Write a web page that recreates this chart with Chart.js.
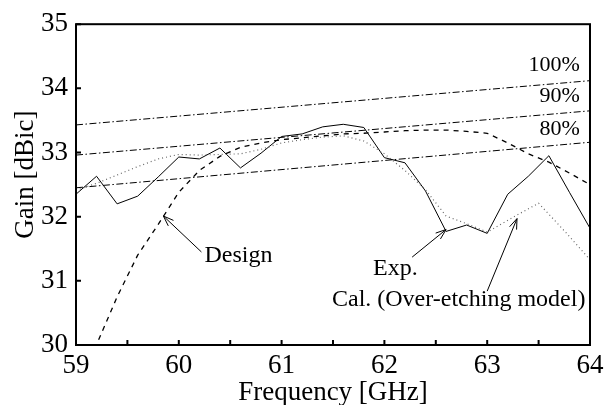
<!DOCTYPE html>
<html>
<head>
<meta charset="utf-8">
<script src="https://cdn.jsdelivr.net/npm/chart.js@4.4.1/dist/chart.umd.min.js"></script>
<style>
html,body{margin:0;padding:0;background:#fff;}
#wrap{width:613px;height:405px;position:relative;}
</style>
</head>
<body>
<div id="wrap"><canvas id="c" width="613" height="405"></canvas></div>
<script>
// ---- data ----
const freqExp = [59.0,59.2,59.4,59.6,59.8,60.0,60.2,60.4,60.6,60.8,61.0,61.2,61.4,61.6,61.8,62.0,62.2,62.4,62.6,62.8,63.0,63.2,63.4,63.6,63.8,64.0];
const gainExp = [32.35,32.63,32.20,32.32,32.62,32.93,32.90,33.07,32.76,32.99,33.25,33.29,33.40,33.44,33.39,32.92,32.84,32.40,31.77,31.87,31.74,32.35,32.63,32.95,32.38,31.82];

const freqCal = [59.0,59.2,59.4,59.6,59.8,60.0,60.2,60.4,60.6,60.8,61.0,61.2,61.4,61.6,61.8,62.0,62.2,62.4,62.6,62.8,63.0,63.25,63.5,63.75,64.0];
const gainCal = [32.41,32.52,32.65,32.78,32.90,32.97,32.96,32.97,32.98,33.05,33.15,33.20,33.24,33.26,33.18,32.98,32.72,32.42,32.01,31.89,31.76,31.99,32.21,31.78,31.33];

const freqDesign = [59.22,59.4,59.6,59.8,60.0,60.2,60.4,60.6,60.8,61.0,61.2,61.4,61.6,61.8,62.0,62.2,62.4,62.6,62.8,63.0,63.2,63.4,63.6,63.8,64.0];
const gainDesign = [30.08,30.75,31.40,31.88,32.38,32.72,32.94,33.08,33.15,33.20,33.23,33.26,33.29,33.30,33.32,33.34,33.35,33.35,33.33,33.30,33.15,32.98,32.85,32.68,32.50];

const freqRef = [59, 64];
const gain100 = [33.43, 34.12];
const gain90  = [32.96, 33.65];
const gain80  = [32.45, 33.16];

const xTicks = [59,60,61,62,63,64];
const yTicks = [30,31,32,33,34,35];

const xTitle = 'Frequency [GHz]';
const yTitle = 'Gain [dBic]';

function pts(xs, ys){ return xs.map((x,i)=>({x:x,y:ys[i]})); }

// text labels (data coordinates)
const labels = [
  {text:'100%', x:63.9, y:34.36, align:'right', size:22},
  {text:'90%',  x:63.9, y:33.87, align:'right', size:22},
  {text:'80%',  x:63.9, y:33.36, align:'right', size:22},
  {text:'Design', x:60.25, y:31.39, align:'left', size:24},
  {text:'Exp.', x:61.89, y:31.19, align:'left', size:24},
  {text:'Cal. (Over-etching model)', x:61.49, y:30.70, align:'left', size:24}
];
// arrows: tail -> tip (data coordinates)
const arrows = [
  {x0:60.22, y0:31.45, x1:59.85, y1:32.01},
  {x0:62.27, y0:31.37, x1:62.60, y1:31.80},
  {x0:63.00, y0:30.84, x1:63.29, y1:31.97}
];

const FONT = '"Liberation Serif","Times New Roman",serif';

const decor = {
  id:'decor',
  afterDatasetsDraw(chart){
    const {ctx, chartArea:a, scales:{x,y}} = chart;
    ctx.save();
    // inward ticks
    ctx.strokeStyle='#000'; ctx.lineWidth=2;
    ctx.beginPath();
    for(let v=59; v<=64.001; v+=0.5){
      const px = x.getPixelForValue(v);
      ctx.moveTo(px, a.bottom); ctx.lineTo(px, a.bottom-5);
    }
    yTicks.forEach(v=>{
      const py = y.getPixelForValue(v);
      ctx.moveTo(a.left, py); ctx.lineTo(a.left+5, py);
    });
    ctx.stroke();
    // frame
    ctx.lineWidth=2;
    ctx.strokeRect(a.left, a.top, a.right-a.left, a.bottom-a.top);
    // labels
    ctx.fillStyle='#000';
    ctx.textBaseline='middle';
    labels.forEach(l=>{
      ctx.font = l.size+'px '+FONT;
      ctx.textAlign=l.align;
      ctx.fillText(l.text, x.getPixelForValue(l.x), y.getPixelForValue(l.y));
    });
    // arrows
    ctx.lineWidth=1;
    arrows.forEach(ar=>{
      const x0=x.getPixelForValue(ar.x0), y0=y.getPixelForValue(ar.y0);
      const x1=x.getPixelForValue(ar.x1), y1=y.getPixelForValue(ar.y1);
      ctx.beginPath(); ctx.moveTo(x0,y0); ctx.lineTo(x1,y1); ctx.stroke();
      const ang=Math.atan2(y1-y0,x1-x0), L=11, h=0.35;
      ctx.beginPath();
      ctx.moveTo(x1-L*Math.cos(ang-h), y1-L*Math.sin(ang-h));
      ctx.lineTo(x1,y1);
      ctx.lineTo(x1-L*Math.cos(ang+h), y1-L*Math.sin(ang+h));
      ctx.stroke();
    });
    // axis titles
    ctx.font = '27px '+FONT;
    ctx.textAlign='center';
    ctx.textBaseline='alphabetic';
    ctx.fillText(xTitle, (a.left+a.right)/2, 400);
    ctx.save();
    ctx.translate(33, (a.top+a.bottom)/2 - 10);
    ctx.rotate(-Math.PI/2);
    ctx.fillText(yTitle, 0, 0);
    ctx.restore();
    ctx.restore();
  }
};

const refStyle = {borderColor:'#000', borderWidth:1, borderDash:[7,2.5,1.5,2.5], pointRadius:0, fill:false};

new Chart(document.getElementById('c'), {
  type:'line',
  data:{
    datasets:[
      Object.assign({label:'100%', data:pts(freqRef,gain100)}, refStyle),
      Object.assign({label:'90%', data:pts(freqRef,gain90)}, refStyle),
      Object.assign({label:'80%', data:pts(freqRef,gain80)}, refStyle),
      {label:'Design', data:pts(freqDesign,gainDesign), borderColor:'#000', borderWidth:1.3, borderDash:[5,5], pointRadius:0, tension:0},
      {label:'Cal.', data:pts(freqCal,gainCal), borderColor:'#666', borderWidth:1.2, borderDash:[1,3], pointRadius:0, tension:0},
      {label:'Exp.', data:pts(freqExp,gainExp), borderColor:'#000', borderWidth:1, pointRadius:0, tension:0}
    ]
  },
  options:{
    responsive:false, animation:false,
    layout:{padding:{left:0,right:23,top:18,bottom:0}},
    plugins:{legend:{display:false}, tooltip:{enabled:false}},
    scales:{
      x:{type:'linear', min:59, max:64,
        afterBuildTicks(s){ s.ticks = xTicks.map(v=>({value:v})); },
        afterFit(s){ s.height = 60; },
        grid:{display:false, drawTicks:false}, border:{display:false},
        ticks:{color:'#000', font:{family:FONT, size:27}, padding:5, maxRotation:0},
        title:{display:false}
      },
      y:{type:'linear', min:30, max:35,
        afterBuildTicks(s){ s.ticks = yTicks.map(v=>({value:v})); },
        afterFit(s){ s.width = 76; },
        grid:{display:false, drawTicks:false}, border:{display:false},
        ticks:{color:'#000', font:{family:FONT, size:27}, padding:8},
        title:{display:false}
      }
    }
  },
  plugins:[decor]
});
</script>
</body>
</html>
